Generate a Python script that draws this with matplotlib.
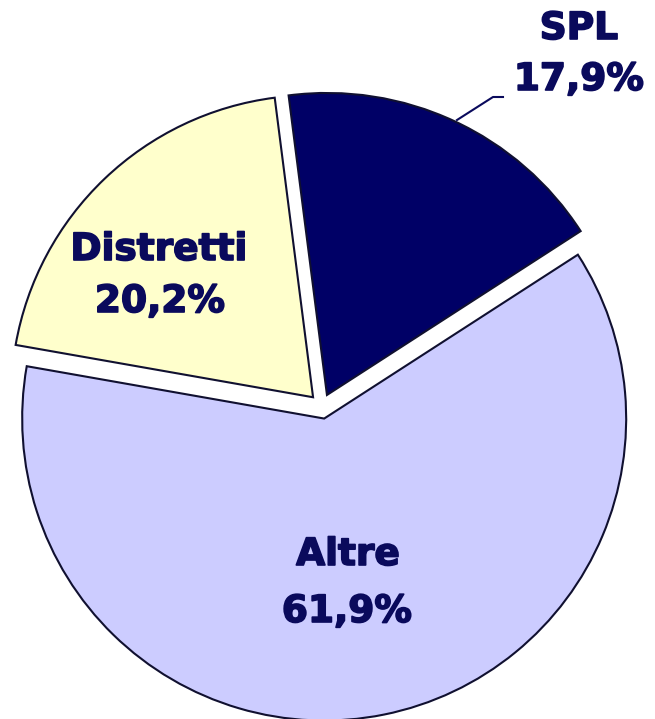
import matplotlib
matplotlib.use("Agg")
import matplotlib.pyplot as plt
import matplotlib.patheffects as pe

categories = ["SPL", "Altre", "Distretti"]
values = [17.9, 61.9, 20.2]
colors = ["#000066", "#CCCCFF", "#FFFFCC"]

W, H = 655, 719
fig = plt.figure(figsize=(W / 100, H / 100), dpi=100)
ax = fig.add_axes([0, 0, 1, 1])

R = 302
cx, cy = 321.7, H - 406.3
ax.pie(values, colors=colors, startangle=97.3, counterclock=False,
       radius=R, center=(cx, cy), explode=[12.5] * 3,
       wedgeprops=dict(edgecolor="#101030", linewidth=1.5),
       frame=False)
ax.set_xlim(0, W)
ax.set_ylim(0, H)
ax.set_aspect("equal")
ax.axis("off")

def fmt(v):
    return f"{v:.1f}".replace(".", ",") + "%"

txt_color = "#0A0A5C"
label_pos = {
    "SPL": [(579, 29), (579, 80)],
    "Altre": [(348, 555), (347, 612)],
    "Distretti": [(159, 250), (160, 302)],
}
effects = [pe.withStroke(linewidth=1.2, foreground=txt_color)]
for cat, v in zip(categories, values):
    (x1, y1), (x2, y2) = label_pos[cat]
    ax.text(x1, H - y1, cat, ha="center", va="center", fontsize=27,
            fontweight="bold", color=txt_color, family="DejaVu Sans",
            path_effects=effects)
    ax.text(x2, H - y2, fmt(v), ha="center", va="center", fontsize=27,
            fontweight="bold", color=txt_color, family="DejaVu Sans",
            path_effects=effects)

# leader line for SPL
ax.plot([457, 493, 503], [H - 120, H - 97, H - 97], color=txt_color, lw=1.5)

fig.savefig("out.png", dpi=100)
